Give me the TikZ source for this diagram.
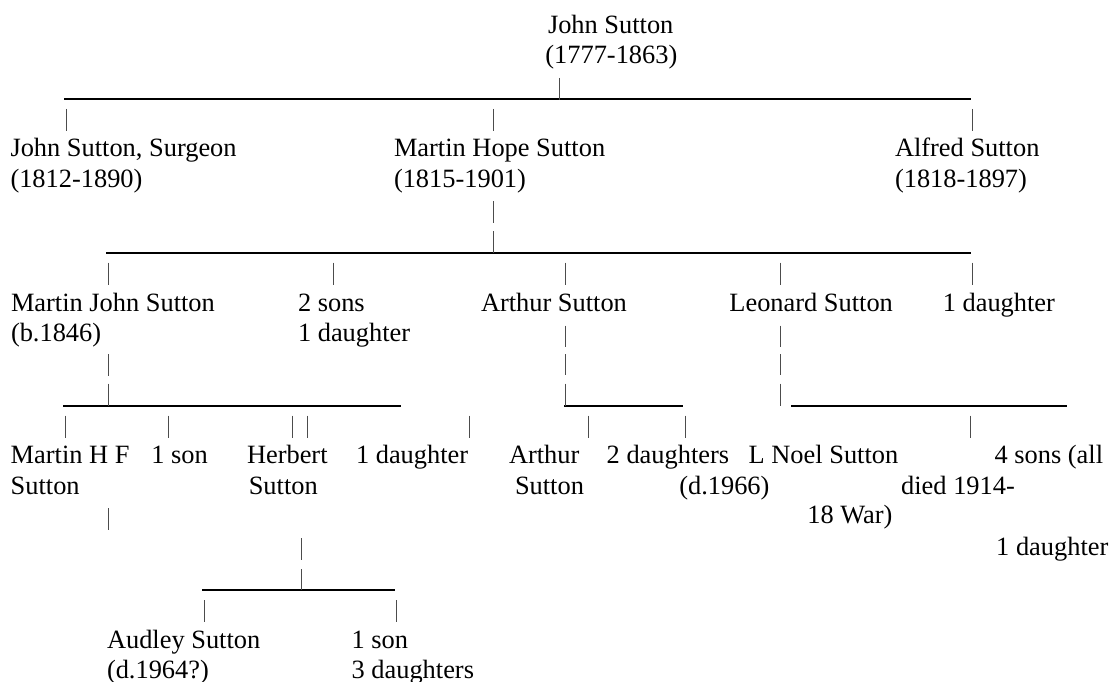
\documentclass[tikz,border=0pt]{standalone}
\usepackage{fontspec}
\setmainfont{Liberation Serif}
\begin{document}
\begin{tikzpicture}[x=1pt,y=-1pt,
  txt/.style={anchor=base west, inner sep=0pt, outer sep=0pt, font=\fontsize{26.4}{30.4}\selectfont},
  bar/.style={line width=2pt, black},
  pipe/.style={line width=0.9pt, black!70}]
\useasboundingbox (0,0) rectangle (1109,682);
% ---------- generation 0
\node[txt] (js1) at (548,34) {John Sutton};
\node[txt] (js2) at (545.4,64) {(1777-1863)};
% ---------- generation 1
\node[txt] (jss1) at (10.5,157) {John Sutton, Surgeon};
\node[txt] (jss2) at (10.5,187.5) {(1812-1890)};
\node[txt] (mhs1) at (394,157) {Martin Hope Sutton};
\node[txt] (mhs2) at (394,187.5) {(1815-1901)};
\node[txt] (als1) at (895,157) {Alfred Sutton};
\node[txt] (als2) at (895,187.5) {(1818-1897)};
% ---------- generation 2
\node[txt] (mjs1) at (11,311.7) {Martin John Sutton};
\node[txt] (mjs2) at (11,341.5) {(b.1846)};
\node[txt] (ss1) at (298,311.7) {2 sons};
\node[txt] (ss2) at (298,341.5) {1 daughter};
\node[txt] (ars) at (481,311.7) {Arthur Sutton};
\node[txt] (les) at (729.4,311.7) {Leonard Sutton};
\node[txt] (dd1) at (942.8,311.7) {1 daughter};
% ---------- generation 3
\node[txt] (mhf1) at (10.7,463.3) {Martin H F};
\node[txt] (mhf2) at (10.7,494) {Sutton};
\node[txt] (son1) at (151.4,463.3) {1 son};
\node[txt] (her1) at (247,463.3) {Herbert};
\node[txt] (her2) at (248.8,494) {Sutton};
\node[txt] (dau1) at (356,463.3) {1 daughter};
\node[txt] (art1) at (509,463.3) {Arthur};
\node[txt] (art2) at (515,494) {Sutton};
\node[txt] (twd1) at (606.7,463.3) {2 daughters};
\node[txt] (twd2) at (679.3,494) {(d.1966)};
\node[txt] (lns) at (748.7,463.3) {L Noel Sutton};
\node[txt] (fs1) at (994.6,463.3) {4 sons (all};
\node[txt] (fs2) at (901.2,494) {died 1914-};
\node[txt] (fs3) at (807.3,523.3) {18 War)};
\node[txt] (fs4) at (996.2,555) {1 daughter};
% ---------- generation 4
\node[txt] (aud1) at (107,648.3) {Audley Sutton};
\node[txt] (aud2) at (107,678) {(d.1964?)};
\node[txt] (os1) at (351.6,648.3) {1 son};
\node[txt] (os2) at (351.6,678) {3 daughters};
% ---------- horizontal bars
\coordinate (b1l) at (64,99);   \coordinate (b1r) at (971,99);
\coordinate (b2l) at (106,253); \coordinate (b2r) at (971,253);
\coordinate (b3l) at (63,405.7);  \coordinate (b3r) at (401,405.7);
\coordinate (b4l) at (564,405.7); \coordinate (b4r) at (682.6,405.7);
\coordinate (b5l) at (791,405.7); \coordinate (b5r) at (1067,405.7);
\coordinate (b6l) at (202.4,590); \coordinate (b6r) at (394.5,590);
\draw[bar] (b1l) -- (b1r);
\draw[bar] (b2l) -- (b2r);
\draw[bar] (b3l) -- (b3r);
\draw[bar] (b4l) -- (b4r);
\draw[bar] (b5l) -- (b5r);
\draw[bar] (b6l) -- (b6r);
% ---------- pipes
\draw[pipe] (559.6,78) -- (559.6,100);
\foreach \x in {66,493,972.6} {\draw[pipe] (\x,109) -- (\x,131);}
\draw[pipe] (493,201) -- (493,223);
\draw[pipe] (493,231) -- (493,252.5);
\foreach \x in {108.5,333.5,565.4,780.6,972.6} {\draw[pipe] (\x,262.5) -- (\x,284.5);}
\draw[pipe] (108.5,354) -- (108.5,376);
\draw[pipe] (108.5,383.5) -- (108.5,405.5);
\foreach \x in {565.4,780.6} {
  \draw[pipe] (\x,325.5) -- (\x,347);
  \draw[pipe] (\x,354) -- (\x,375);
  \draw[pipe] (\x,383.5) -- (\x,405.5);
}
\foreach \x in {65.7,168.5,292,307.4,469.8,588.3,685,970} {\draw[pipe] (\x,415.5) -- (\x,437.5);}
\draw[pipe] (108.5,508) -- (108.5,530);
\draw[pipe] (301,538) -- (301,560);
\draw[pipe] (301,569) -- (301,590);
\foreach \x in {204.6,396.3} {\draw[pipe] (\x,600) -- (\x,622);}
\end{tikzpicture}
\end{document}
